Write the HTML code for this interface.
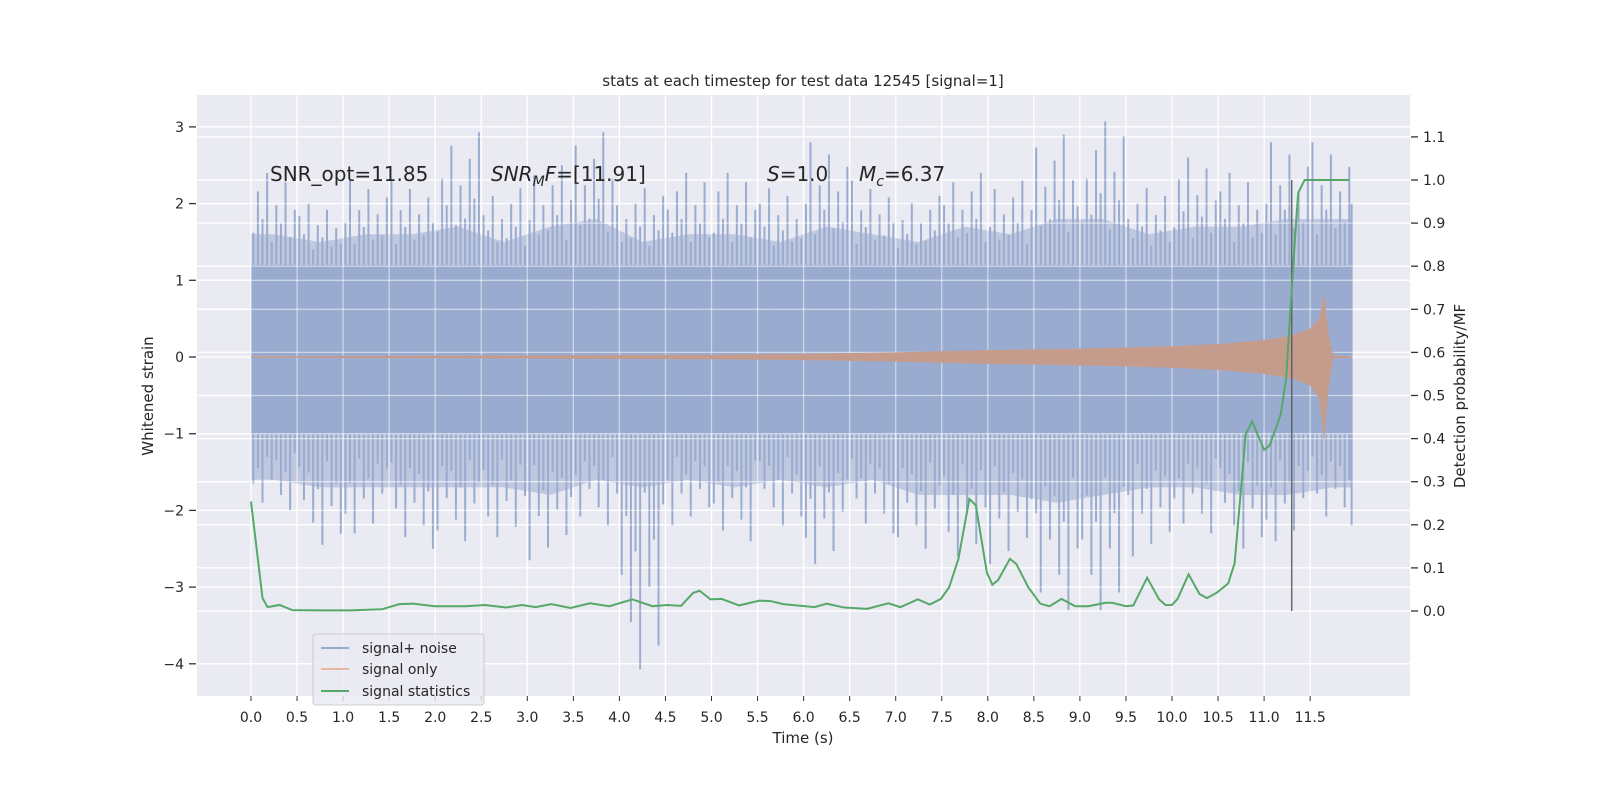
<!DOCTYPE html>
<html><head><meta charset="utf-8"><style>
body{margin:0;background:#fff;}
svg text{font-family:"DejaVu Sans","Liberation Sans",sans-serif;fill:#262626;}
</style></head><body>
<svg id="chart" width="1600" height="800" viewBox="0 0 1600 800">
<rect x="197" y="95" width="1213" height="601" fill="#eaeaf2"/>
<g id="grid"></g><g id="marks"></g><g id="grid2"></g><g id="marks2"></g><g id="axes"></g>
<text x="803" y="86" text-anchor="middle" font-size="15">stats at each timestep for test data 12545 [signal=1]</text>
<text x="270" y="181" font-size="20">SNR_opt=11.85</text>
<text x="491" y="181" font-size="20"><tspan font-style="italic">SNR</tspan><tspan font-style="italic" font-size="14" dy="5">M</tspan><tspan font-style="italic" dy="-5">F</tspan>=[11.91]</text>
<text x="767" y="181" font-size="20"><tspan font-style="italic">S</tspan>=1.0</text>
<text x="859" y="181" font-size="20"><tspan font-style="italic">M</tspan><tspan font-style="italic" font-size="14" dy="5">c</tspan><tspan dy="-5">=6.37</tspan></text>
<text x="803" y="743" text-anchor="middle" font-size="15">Time (s)</text>
<text transform="translate(153,396) rotate(-90)" text-anchor="middle" font-size="15">Whitened strain</text>
<text transform="translate(1465,396) rotate(-90)" text-anchor="middle" font-size="15">Detection probability/MF</text>
<g>
<rect x="313" y="634" width="171" height="71" rx="3" fill="#eaeaf2" stroke="#cccccc" fill-opacity="0.8"/>
<line x1="321" y1="648" x2="349" y2="648" stroke="#9aabd0" stroke-width="2"/>
<text x="362" y="653" font-size="14">signal+ noise</text>
<line x1="321" y1="669" x2="349" y2="669" stroke="#e8b9a0" stroke-width="2"/>
<text x="362" y="674" font-size="14">signal only</text>
<line x1="321" y1="691" x2="349" y2="691" stroke="#55a868" stroke-width="2"/>
<text x="362" y="696" font-size="14">signal statistics</text>
</g>
</svg>
<script>
const NS="http://www.w3.org/2000/svg";
// noise envelope per 0.5 s bin
const noiseBins=[0,0.5,1,1.5,2,2.5,3,3.5,4,4.5,5,5.5,6,6.5,7,7.5,8,8.5,9,9.5,10,10.5,11,11.5];
const noisePeakUp=[2.4,2.0,2.3,2.3,2.93,2.2,2.5,2.93,2.2,2.4,2.4,2.2,2.8,2.3,2.1,2.4,2.3,2.9,3.07,2.2,2.6,2.4,2.8,2.8];
const noisePeakLow=[-2.0,-2.45,-2.3,-2.5,-2.4,-2.35,-2.65,-2.2,-4.07,-2.2,-2.4,-2.2,-2.7,-2.3,-2.5,-2.6,-2.7,-3.3,-3.3,-2.6,-2.3,-2.5,-2.4,-2.2];
const noiseTypUp=[1.6,1.5,1.6,1.6,1.7,1.5,1.7,1.8,1.5,1.6,1.6,1.5,1.7,1.6,1.5,1.7,1.6,1.8,1.8,1.6,1.7,1.7,1.8,1.8];
const noiseTypLow=[-1.6,-1.7,-1.7,-1.7,-1.7,-1.7,-1.8,-1.6,-1.7,-1.6,-1.7,-1.6,-1.7,-1.6,-1.8,-1.8,-1.8,-1.9,-1.8,-1.7,-1.7,-1.8,-1.8,-1.7];
const noiseCoreUp=1.2, noiseCoreLow=-1.0, noiseEnd=11.95;
// signal-only amplitude envelope
const sigT=[0,3,5,6,7,8,9,10,10.5,11,11.3,11.5,11.6,11.65,11.7,11.75,11.95];
const sigUp=[0.01,0.02,0.03,0.04,0.06,0.09,0.11,0.14,0.17,0.22,0.28,0.37,0.5,0.85,0.3,0.02,0.01];
const sigLow=[-0.01,-0.02,-0.03,-0.04,-0.06,-0.09,-0.11,-0.14,-0.17,-0.22,-0.28,-0.37,-0.55,-1.1,-0.4,-0.02,-0.01];
// signal statistics (detection probability)
const statT=[0,0.125,0.18,0.31,0.45,0.77,1.08,1.42,1.61,1.76,1.99,2.33,2.54,2.77,2.94,3.09,3.26,3.47,3.68,3.89,4.14,4.36,4.52,4.67,4.8,4.87,4.99,5.11,5.3,5.52,5.64,5.78,6.12,6.25,6.44,6.69,6.92,7.05,7.24,7.37,7.49,7.58,7.68,7.8,7.87,7.99,8.05,8.11,8.24,8.31,8.44,8.57,8.67,8.8,8.95,9.09,9.28,9.35,9.5,9.58,9.73,9.86,9.93,10.0,10.06,10.18,10.3,10.38,10.49,10.61,10.68,10.8,10.87,11.0,11.06,11.18,11.24,11.29,11.35,11.37,11.44,11.93];
const statP=[0.254,0.03,0.009,0.014,0.002,0.0015,0.0015,0.004,0.016,0.017,0.011,0.011,0.014,0.008,0.014,0.009,0.016,0.007,0.018,0.011,0.027,0.011,0.014,0.012,0.042,0.047,0.027,0.028,0.013,0.024,0.023,0.016,0.009,0.017,0.008,0.005,0.018,0.009,0.027,0.015,0.028,0.055,0.12,0.26,0.245,0.089,0.061,0.071,0.121,0.109,0.055,0.017,0.011,0.028,0.011,0.011,0.019,0.019,0.011,0.013,0.077,0.027,0.014,0.014,0.028,0.085,0.039,0.03,0.043,0.064,0.111,0.41,0.44,0.374,0.384,0.456,0.54,0.714,0.91,0.97,1.0,1.0];
const xTicks=["0.0","0.5","1.0","1.5","2.0","2.5","3.0","3.5","4.0","4.5","5.0","5.5","6.0","6.5","7.0","7.5","8.0","8.5","9.0","9.5","10.0","10.5","11.0","11.5"];
const yTicks=[3,2,1,0,-1,-2,-3,-4];
const pTicks=["0.0","0.1","0.2","0.3","0.4","0.5","0.6","0.7","0.8","0.9","1.0","1.1"];
const markerT=11.3;

const X=t=>251+t*92.1, Y=v=>357-v*76.7, P=p=>611-p*431;
const grid=document.getElementById('grid'),grid2=document.getElementById('grid2'),marks=document.getElementById('marks'),marks2=document.getElementById('marks2'),axes=document.getElementById('axes');
function mk(tag,at,parent){const e=document.createElementNS(NS,tag);for(const k in at)e.setAttribute(k,at[k]);parent.appendChild(e);return e;}
function gl(x1,y1,x2,y2,name){
 const l=mk('line',{x1:x1,x2:x2,y1:y1,y2:y2,stroke:'#fff','stroke-width':1.3},grid);
 
 
 const l2=mk('line',{x1:x1,x2:x2,y1:y1,y2:y2,stroke:'#fff','stroke-width':1.3,'stroke-opacity':0.5},grid2);
 
 }

xTicks.forEach(s=>{const x=X(parseFloat(s));
 gl(x,95,x,696,'x-gridline');
 const tk=mk('line',{x1:x,x2:x,y1:696,y2:701,stroke:'#333','stroke-width':1},axes);
 
 
 const t=mk('text',{x:x,y:722,'text-anchor':'middle','font-size':14},axes);t.textContent=s;
 
 });
yTicks.forEach(v=>{const y=Y(v);
 gl(197,y,1410,y,'y-gridline');
 const tk=mk('line',{x1:189,x2:196,y1:y,y2:y,stroke:'#333','stroke-width':1.3},axes);
 
 
 const t=mk('text',{x:184,y:y+5,'text-anchor':'end','font-size':14},axes);t.textContent=v<0?'\u2212'+(-v):String(v);
 
 });
pTicks.forEach(s=>{const y=P(parseFloat(s));
 gl(197,y,1410,y,'right-y-gridline');
 const tk=mk('line',{x1:1411,x2:1418,y1:y,y2:y,stroke:'#333','stroke-width':1.3},axes);
 
 
 const t=mk('text',{x:1423,y:y+5,'font-size':14},axes);t.textContent=s;
 
 });

// noise: smooth envelope through bin centres
let up=[X(0)+','+Y(noiseTypUp[0])],lo=[X(0)+','+Y(noiseTypLow[0])];
noiseBins.forEach((t,i)=>{const c=Math.min(t+0.25,noiseEnd);up.push(X(c)+','+Y(noiseTypUp[i]));lo.push(X(c)+','+Y(noiseTypLow[i]));});
up.push(X(noiseEnd)+','+Y(noiseTypUp[noiseTypUp.length-1]));lo.push(X(noiseEnd)+','+Y(noiseTypLow[noiseTypLow.length-1]));
const outer=mk('polygon',{points:up.concat(lo.reverse()).join(' '),fill:'#9aabd0','fill-opacity':0.55},marks);


const core=mk('rect',{x:X(0),y:Y(noiseCoreUp),width:X(noiseEnd)-X(0),height:Y(noiseCoreLow)-Y(noiseCoreUp),fill:'#9aabd0'},marks);


const spikeFrac=[0.35,0.8,0.5,1.0,0.25,0.65,0.45,0.9,0.3,0.6];
noiseBins.forEach((t,i)=>{
 for(let j=0;j<10;j++){const x=X(Math.min(t+0.025+j*0.05,noiseEnd));
  const fu=spikeFrac[(j+i)%10], fl=spikeFrac[(j+i*3+5)%10];
  const hu=noiseCoreUp+(noisePeakUp[i]-noiseCoreUp)*fu;
  const hl=noiseCoreLow+(noisePeakLow[i]-noiseCoreLow)*fl;
  const s=mk('line',{x1:x,x2:x,y1:Y(hu),y2:Y(hl),stroke:'#9aabd0','stroke-width':2},marks);
  
  }});
// signal
const sp=sigT.map((t,i)=>X(t)+','+Y(sigUp[i])).concat(sigT.map((t,i)=>X(t)+','+Y(sigLow[i])).reverse()).join(' ');
const sig=mk('polygon',{points:sp,fill:'#c59c8c'},marks2);


// marker line
const ml=mk('line',{x1:X(markerT),x2:X(markerT),y1:P(1.0),y2:P(0),stroke:'#555','stroke-width':1.5,'stroke-opacity':0.85},marks2);


// stats
const st=mk('polyline',{points:statT.map((t,i)=>X(t)+','+P(statP[i])).join(' '),fill:'none',stroke:'#55a868','stroke-width':2},marks2);


</script>
</body></html>
